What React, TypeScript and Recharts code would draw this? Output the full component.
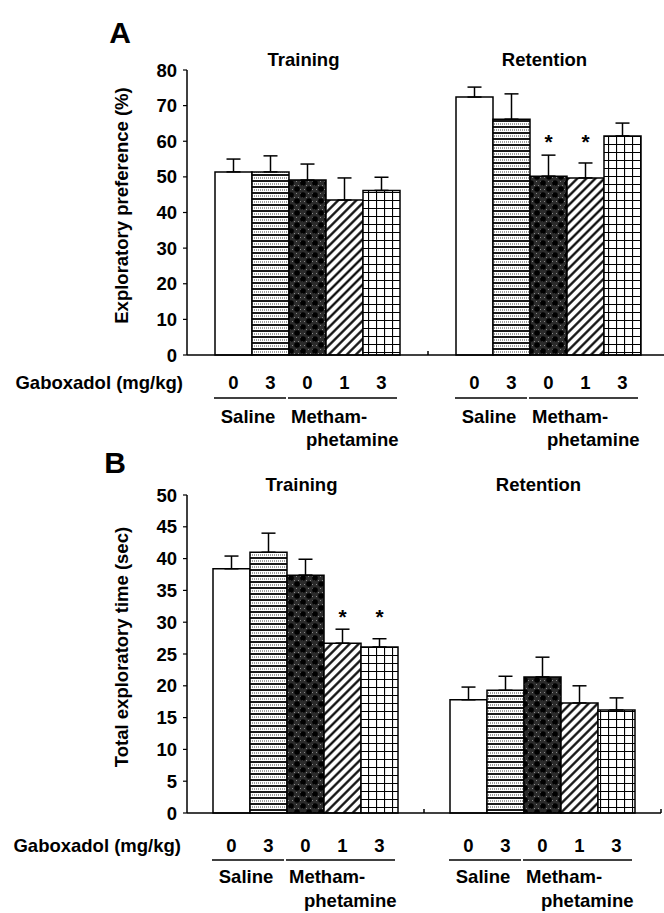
import React from "react";
import { BarChart, Bar, XAxis, YAxis, ErrorBar, LabelList } from "recharts";

const FONT = '"Liberation Sans", Arial, Helvetica, sans-serif';
const FS = 18.5;

const phases = ["Training", "Retention"];
const doseLabels = ["0", "3", "0", "1", "3"];
const doseTitle = "Gaboxadol (mg/kg)";
const groupSpans = [
  { first: 0, last: 1, lines: ["Saline"] },
  { first: 2, last: 4, lines: ["Metham-", "phetamine"] },
];

// A - exploratory preference (%)
const prefTraining = [51.4, 51.4, 49.1, 43.5, 46.2];
const prefTrainingSem = [3.6, 4.5, 4.5, 6.2, 3.7];
const prefRetention = [72.4, 66.2, 50.2, 49.7, 61.5];
const prefRetentionSem = [2.8, 7.1, 5.9, 4.2, 3.6];
const prefTrainingSig = [false, false, false, false, false];
const prefRetentionSig = [false, false, true, true, false];
const prefTicks = [0, 10, 20, 30, 40, 50, 60, 70, 80];

// B - total exploratory time (sec)
const timeTraining = [38.4, 41.0, 37.4, 26.7, 26.1];
const timeTrainingSem = [2.0, 3.0, 2.5, 2.2, 1.3];
const timeRetention = [17.8, 19.3, 21.4, 17.3, 16.2];
const timeRetentionSem = [2.0, 2.2, 3.1, 2.7, 1.9];
const timeTrainingSig = [false, false, false, true, true];
const timeRetentionSig = [false, false, false, false, false];
const timeTicks = [0, 5, 10, 15, 20, 25, 30, 35, 40, 45, 50];

const fills = ["#fff", "url(#pat-hl)", "url(#pat-dots)", "url(#pat-diag)", "url(#pat-grid)"];

function buildRows(means: number[][], sems: number[][]) {
  return phases.map((phase, i) => {
    const row: Record<string, any> = { phase };
    doseLabels.forEach((_, s) => {
      row[`g${s}`] = means[i][s];
      row[`e${s}`] = [0, sems[i][s]];
    });
    return row;
  });
}

const textStyle = { fontFamily: FONT, fontWeight: 700, fill: "#000" } as const;

type Offsets = { dose: number; line: number; group: number; group2: number };

function Patterns() {
  const speck: React.ReactNode[] = [];
  for (let i = 0; i < 3; i++)
    for (let j = 0; j < 3; j++)
      speck.push(
        <rect key={`${i}-${j}`} x={i * 4 + (j % 2) * 2} y={j * 4 + 1} width={1} height={1} fill="#8a8a8a" />
      );
  return (
    <svg width={0} height={0} style={{ position: "absolute" }}>
      <defs>
        <pattern id="pat-hl" patternUnits="userSpaceOnUse" width={6} height={6}>
          <rect width={6} height={6} fill="#fff" />
          <line x1={0} y1={1} x2={6} y2={1} stroke="#000" strokeWidth={1.8} />
          <line x1={0} y1={4} x2={6} y2={4} stroke="#444" strokeWidth={1} strokeDasharray="1 1" />
        </pattern>
        <pattern id="pat-dots" patternUnits="userSpaceOnUse" width={12} height={12}>
          <rect width={12} height={12} fill="#2b2b2b" />
          {speck}
          <circle cx={3} cy={3} r={2.8} fill="#000" />
          <circle cx={9} cy={9} r={2.8} fill="#000" />
        </pattern>
        <pattern id="pat-diag" patternUnits="userSpaceOnUse" width={6.4} height={6.4} patternTransform="rotate(45)">
          <rect width={6.4} height={6.4} fill="#fff" />
          <line x1={3.2} y1={0} x2={3.2} y2={6.4} stroke="#000" strokeWidth={2.2} />
        </pattern>
        <pattern id="pat-grid" patternUnits="userSpaceOnUse" width={8} height={8}>
          <rect width={8} height={8} fill="#fff" />
          <path d="M0 0.5 H8 M0.5 0 V8" stroke="#000" strokeWidth={1.2} />
        </pattern>
      </defs>
    </svg>
  );
}

function Panel({
  rows,
  sig,
  ticks,
  yLabel,
  starLevel,
  offsets,
  width,
  height,
  top,
  right,
}: {
  rows: Record<string, any>[];
  sig: boolean[][];
  ticks: number[];
  yLabel: string;
  starLevel: number;
  offsets: Offsets;
  width: number;
  height: number;
  top: number;
  right: number;
}) {
  const renderUnder = (props: any, s: number) => {
    const vb = props.viewBox ?? props;
    const { x, y, width: w, height: h } = vb;
    const idx = props.index;
    const value = Number(props.value);
    const base = y + h;
    const out: React.ReactNode[] = [];
    out.push(
      <text key="d" x={x + w / 2} y={base + offsets.dose + 6.5} textAnchor="middle" fontSize={FS} {...textStyle}>
        {doseLabels[s]}
      </text>
    );
    const span = groupSpans.find((g) => g.first === s);
    if (span) {
      const spanW = w * (span.last - span.first + 1);
      out.push(
        <line key="u" x1={x - 1} x2={x + spanW - 3} y1={base + offsets.line} y2={base + offsets.line} stroke="#000" strokeWidth={1.6} />
      );
      if (span.lines.length === 1) {
        out.push(
          <text key="g" x={x + spanW / 2 - 4} y={base + offsets.group + 6.5} textAnchor="middle" fontSize={FS} {...textStyle}>
            {span.lines[0]}
          </text>
        );
      } else {
        span.lines.forEach((ln, k) =>
          out.push(
            <text key={`g${k}`} x={x + 2 + k * 15} y={base + (k ? offsets.group2 : offsets.group) + 6.5} fontSize={FS} {...textStyle}>
              {ln}
            </text>
          )
        );
      }
    }
    if (s === 0 && idx === 0) {
      out.push(
        <text key="t" x={x - 32} y={base + offsets.dose + 6.5} textAnchor="end" fontSize={FS} {...textStyle}>
          {doseTitle}
        </text>
      );
    }
    if (sig[idx][s] && value > 0) {
      const ppu = h / value;
      out.push(
        <text key="s" x={x + w / 2} y={base - starLevel * ppu + 11} textAnchor="middle" fontSize={21} {...textStyle}>
          *
        </text>
      );
    }
    return <g>{out}</g>;
  };

  const TitleTick = (p: any) => (
    <text x={p.x - 4} y={p.y + 4} textAnchor="middle" fontSize={FS} {...textStyle}>
      {p.payload.value}
    </text>
  );

  const BoundaryTick = (p: any) => {
    const off = p.payload?.offset ?? 0;
    return <line x1={p.x + off} x2={p.x + off} y1={p.y} y2={p.y - 4} stroke="#000" strokeWidth={1.5} />;
  };

  return (
    <BarChart
      width={width}
      height={height}
      data={rows}
      margin={{ top, right, bottom: 0, left: 0 }}
      barSize={37}
      barGap={0}
    >
      <XAxis xAxisId="top" orientation="top" dataKey="phase" height={30} axisLine={false} tickLine={false} tick={TitleTick} interval={0} />
      <XAxis
        dataKey="phase"
        height={100}
        axisLine={{ stroke: "#000", strokeWidth: 1.5 }}
        tickLine={false}
        tickSize={0}
        tickMargin={0}
        tick={BoundaryTick}
        interval={0}
      />
      <YAxis
        width={187}
        domain={[ticks[0], ticks[ticks.length - 1]]}
        ticks={ticks}
        interval={0}
        axisLine={{ stroke: "#000", strokeWidth: 1.5 }}
        tickLine={{ stroke: "#000", strokeWidth: 1.2 }}
        tickSize={4}
        tickMargin={6}
        tick={{ ...textStyle, fontSize: FS }}
        label={{
          value: yLabel,
          content: (lp: any) => {
            const vb = lp.viewBox;
            const cx = vb.x + vb.width - 66;
            const cy = vb.y + vb.height / 2 - 7;
            return (
              <text
                x={cx}
                y={cy}
                transform={`rotate(-90 ${cx} ${cy})`}
                textAnchor="middle"
                dominantBaseline="central"
                fontSize={FS}
                {...textStyle}
              >
                {yLabel}
              </text>
            );
          },
        }}
      />
      {doseLabels.map((_, s) => (
        <Bar key={s} dataKey={`g${s}`} fill={fills[s]} stroke="#000" strokeWidth={1.5} isAnimationActive={false}>
          <ErrorBar dataKey={`e${s}`} direction="y" width={7} stroke="#000" strokeWidth={1.5} />
          <LabelList dataKey={`g${s}`} content={(p: any) => renderUnder(p, s)} />
        </Bar>
      ))}
    </BarChart>
  );
}

const prefRows = buildRows([prefTraining, prefRetention], [prefTrainingSem, prefRetentionSem]);
const timeRows = buildRows([timeTraining, timeRetention], [timeTrainingSem, timeRetentionSem]);

export default function App() {
  return (
    <div style={{ position: "absolute", left: 0, top: 0, width: 664, height: 913, overflow: "hidden", background: "#fff" }}>
      <Patterns />
      <div style={{ position: "absolute", left: 0, top: 0 }}>
        <Panel
          rows={prefRows}
          sig={[prefTrainingSig, prefRetentionSig]}
          ticks={prefTicks}
          yLabel="Exploratory preference (%)"
          starLevel={61}
          offsets={{ dose: 27, line: 43, group: 61, group2: 84 }}
          width={670}
          height={455}
          top={40}
          right={1}
        />
      </div>
      <div style={{ position: "absolute", left: 0, top: 455 }}>
        <Panel
          rows={timeRows}
          sig={[timeTrainingSig, timeRetentionSig]}
          ticks={timeTicks}
          yLabel="Total exploratory time  (sec)"
          starLevel={31.4}
          offsets={{ dose: 32, line: 47, group: 63, group2: 87 }}
          width={664}
          height={458}
          top={10}
          right={3}
        />
      </div>
      <svg width={664} height={913} style={{ position: "absolute", left: 0, top: 0, pointerEvents: "none" }}>
        <text x={120} y={43} textAnchor="middle" fontSize={30} {...textStyle}>
          A
        </text>
        <text x={115} y={473} textAnchor="middle" fontSize={30} {...textStyle}>
          B
        </text>
      </svg>
    </div>
  );
}
